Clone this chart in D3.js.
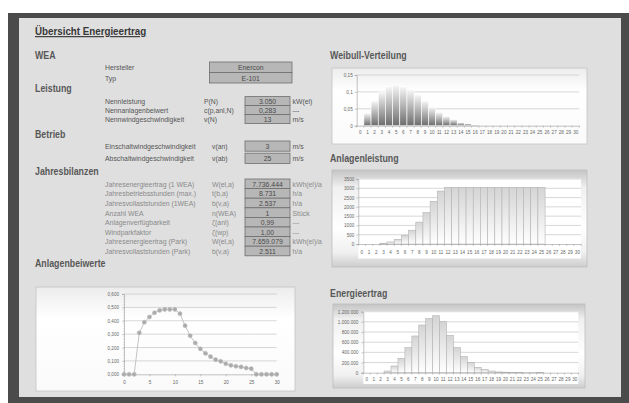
<!DOCTYPE html>
<html lang="de">
<head>
<meta charset="UTF-8">
<title>Übersicht Energieertrag</title>
<script src="https://d3js.org/d3.v7.min.js"></script>
<style>
  body { margin: 0; padding: 0; background: #fff; }
  svg { display: block; }
  text { font-family: "Liberation Sans", Arial, sans-serif; }
  .head { font-weight: bold; }
  .tick text { font-size: 4.6px; fill: #666; }
</style>
</head>
<body>
<div id="chart"></div>
<script>
// ---- data ----
const speeds = [0,1,2,3,4,5,6,7,8,9,10,11,12,13,14,15,16,17,18,19,20,21,22,23,24,25,26,27,28,29,30];

const weibull = [0,0.037,0.073,0.100,0.115,0.120,0.115,0.106,0.091,0.073,0.055,0.040,0.028,0.019,0.010,0.007,0.003,
                 0,0,0,0,0,0,0,0,0,0,0,0,0,0];

const power = [0,0,0,40,110,250,470,740,1180,1690,2300,2850,3050,3050,3050,3050,3050,3050,3050,3050,3050,3050,3050,3050,3050,3050,
               0,0,0,0,0];

const energy = [0,0,0,33000,132000,283000,492000,722000,938000,1070000,1121000,1003000,735000,492000,315000,197000,
                106000,67000,33000,15000,10000,7000,5000,3000,2000,1500,0,0,0,0,0];

const cp = [0,0,0,0.310,0.389,0.428,0.460,0.478,0.485,0.485,0.485,0.453,0.363,0.288,0.234,0.190,0.157,0.132,0.109,
            0.097,0.079,0.067,0.060,0.055,0.047,0.042,0,0,0,0,0];

const weaRows = [
  ["Hersteller", "Enercon"],
  ["Typ", "E-101"]
];
const leistungRows = [
  ["Nennleistung", "P(N)", "3.050", "kW(el)"],
  ["Nennanlagenbeiwert", "c(p,anl,N)", "0,283", "---"],
  ["Nennwindgeschwindigkeit", "v(N)", "13", "m/s"]
];
const betriebRows = [
  ["Einschaltwindgeschwindigkeit", "v(an)", "3", "m/s"],
  ["Abschaltwindgeschwindigkeit", "v(ab)", "25", "m/s"]
];
const bilanzRows = [
  ["Jahresenergieertrag (1 WEA)", "W(el,a)", "7.736.444", "kWh(el)/a"],
  ["Jahresbetriebsstunden (max.)", "t(b,a)", "8.731", "h/a"],
  ["Jahresvollaststunden (1WEA)", "b(v,a)", "2.537", "h/a"],
  ["Anzahl WEA", "n(WEA)", "1", "Stück"],
  ["Anlagenverfügbarkeit", "ζ(anl)", "0,99", "---"],
  ["Windparkfaktor", "ζ(wp)", "1,00", "---"],
  ["Jahresenergieertrag (Park)", "W(el,a)", "7.659.079", "kWh(el)/a"],
  ["Jahresvollaststunden (Park)", "b(v,a)", "2.511", "h/a"]
];

const de = d3.formatLocale({ decimal: ",", thousands: ".", grouping: [3], currency: ["", " €"] });

// ---- frame ----
const W = 629, H = 403;
const svg = d3.select("#chart").append("svg").attr("width", W).attr("height", H);
const defs = svg.append("defs");

function vGrad(id, stops) {
  const g = defs.append("linearGradient").attr("id", id)
    .attr("x1", 0).attr("y1", 0).attr("x2", 0).attr("y2", 1);
  stops.forEach(s => g.append("stop").attr("offset", s[0]).attr("stop-color", s[1]));
}
vGrad("gWeib", [[0, "#f6f6f6"], [1, "#6c6c6c"]]);
vGrad("gBar", [[0, "#d4d4d4"], [1, "#ffffff"]]);
vGrad("gPanel", [[0, "#c4c4c4"], [0.18, "#f0f0f0"], [0.6, "#ffffff"], [0.85, "#f0f0f0"], [1, "#cdcdcd"]]);
vGrad("gLight", [[0, "#ececec"], [0.3, "#ffffff"], [1, "#fafafa"]]);

svg.append("rect").attr("width", W).attr("height", H).attr("fill", "#fff");
svg.append("rect").attr("x", 8).attr("y", 13).attr("width", W - 8).attr("height", H - 13).attr("fill", "#4b4b4b");
svg.append("rect").attr("x", 19).attr("y", 18).attr("width", 602).attr("height", 379).attr("fill", "#dfdfdf");

// condensed text: the original uses a narrow face, so squeeze horizontally
function ntext(parent, x, y, txt, size, anchor, sx) {
  return parent.append("text")
    .attr("transform", `translate(${x},${y}) scale(${sx || 0.86},1)`)
    .attr("font-size", size).attr("text-anchor", anchor || "start").text(txt);
}

ntext(svg, 35, 35, "Übersicht Energieertrag", 11.5, "start", 0.85)
  .attr("class", "head").attr("fill", "#383838").style("text-decoration", "underline");

// ---- left table ----
function heading(txt, x, y) {
  ntext(svg, x, y, txt, 10.5, "start", 0.84).attr("class", "head").attr("fill", "#585858");
}
function box(x, y, w, h, val) {
  svg.append("rect").attr("x", x).attr("y", y).attr("width", w).attr("height", h)
    .attr("fill", "#b7b7b7").attr("stroke", "#6e6e6e").attr("stroke-width", 0.8);
  ntext(svg, x + w / 2, y + h / 2 + 2.9, val, 8, "middle").attr("fill", "#4a4a4a");
}
function rows(data, top, rowH, gap, symX, color) {
  data.forEach((r, i) => {
    const y = top + i * (rowH + gap);
    const base = y + rowH / 2 + 2.9;
    const g = svg.append("g").attr("fill", color);
    ntext(g, 105, base, r[0], 8);
    ntext(g, symX, base, r[1], 8);
    box(245, y, 45, rowH, r[2]);
    ntext(g, 292.5, base, r[3], 8);
  });
}

heading("WEA", 35, 59);
weaRows.forEach((r, i) => {
  const y = 62 + i * 10.5;
  ntext(svg, 105, y + 8.2, r[0], 8).attr("fill", "#555");
  box(209.5, y, 82.5, 10.5, r[1]);
});

heading("Leistung", 35, 92);
rows(leistungRows, 96.6, 9, 0, 204, "#555");

heading("Betrieb", 35, 138);
rows(betriebRows, 141, 10.2, 2, 212, "#555");

heading("Jahresbilanzen", 35, 175);
rows(bilanzRows, 179, 9.6, 0, 212, "#8a8a8a");

heading("Anlagenbeiwerte", 35, 267);

// right titles
heading("Weibull-Verteilung", 330, 59);
heading("Anlagenleistung", 330, 162);
heading("Energieertrag", 330, 297);

// ---- helpers ----
function styleAxis(g) {
  g.select(".domain").attr("stroke", "#9a9a9a").attr("stroke-width", 0.6);
  g.selectAll(".tick line").attr("stroke", "#9a9a9a").attr("stroke-width", 0.5);
}

function barChart(o) {
  const x = d3.scaleBand().domain(speeds).range([o.x0, o.x1]).padding(0);
  const y = d3.scaleLinear().domain([0, o.yMax]).range([o.yBot, o.yTop]);
  const g = svg.append("g");

  // grid
  g.append("g").selectAll("line").data(o.ticks.filter(t => t > 0)).join("line")
    .attr("x1", o.x0).attr("x2", o.x1)
    .attr("y1", d => y(d)).attr("y2", d => y(d))
    .attr("stroke", "#c6c6c6").attr("stroke-width", 0.7);

  // bars
  g.append("g").selectAll("rect").data(o.data.map((v, i) => ({ s: speeds[i], v })).filter(d => d.v > 0)).join("rect")
    .attr("x", d => x(d.s)).attr("width", x.bandwidth())
    .attr("y", d => y(d.v)).attr("height", d => y(0) - y(d.v))
    .attr("fill", o.fill).attr("stroke", o.stroke).attr("stroke-width", 0.6);

  // y axis
  const ya = g.append("g").attr("transform", `translate(${o.x0},0)`)
    .call(d3.axisLeft(y).tickValues(o.ticks).tickFormat(o.fmt).tickSize(2).tickPadding(o.pad));
  styleAxis(ya);

  // x axis, ticks on the category edges
  const xa = g.append("g").attr("transform", `translate(0,${o.yBot})`)
    .call(d3.axisBottom(x).tickSize(0).tickPadding(o.xPad));
  styleAxis(xa);
  xa.selectAll(".tick text").attr("font-size", 4.5);
  xa.append("g").selectAll("line").data(speeds.concat([31])).join("line")
    .attr("x1", (d, i) => o.x0 + i * x.bandwidth()).attr("x2", (d, i) => o.x0 + i * x.bandwidth())
    .attr("y1", 0).attr("y2", 2).attr("stroke", "#9a9a9a").attr("stroke-width", 0.5);
}

// ---- Weibull ----
svg.append("rect").attr("x", 332).attr("y", 68).attr("width", 255).attr("height", 76)
  .attr("fill", "url(#gLight)").attr("stroke", "#c4c4c4").attr("stroke-width", 0.8);
barChart({
  x0: 356.7, x1: 579.3, yTop: 75, yBot: 125.7, yMax: 0.15, data: weibull,
  ticks: [0, 0.05, 0.1, 0.15], fmt: d => String(d).replace(".", ","), pad: 2,
  fill: "url(#gWeib)", stroke: "#ffffff", xPad: 5
});

// ---- Anlagenleistung ----
svg.append("rect").attr("x", 332).attr("y", 170).attr("width", 255).attr("height", 97)
  .attr("fill", "url(#gPanel)").attr("stroke", "#bdbdbd").attr("stroke-width", 0.8);
svg.append("rect").attr("x", 358.3).attr("y", 178.5).attr("width", 222.7).attr("height", 80).attr("fill", "#fff");
barChart({
  x0: 358.3, x1: 581, yTop: 179, yBot: 244, yMax: 3500, data: power,
  ticks: [0, 500, 1000, 1500, 2000, 2500, 3000, 3500], fmt: d3.format("d"), pad: 2,
  fill: "url(#gBar)", stroke: "#b4b4b4", xPad: 6.5
});

// ---- Energieertrag ----
svg.append("rect").attr("x", 333).attr("y", 304).attr("width", 252).attr("height", 84)
  .attr("fill", "url(#gPanel)").attr("stroke", "#bdbdbd").attr("stroke-width", 0.8);
svg.append("rect").attr("x", 363.3).attr("y", 311).attr("width", 215).attr("height", 73).attr("fill", "#fff");
barChart({
  x0: 363.3, x1: 578.3, yTop: 311.7, yBot: 372.7, yMax: 1200000, data: energy,
  ticks: [0, 200000, 400000, 600000, 800000, 1000000, 1200000], fmt: de.format(",d"), pad: 3,
  fill: "url(#gBar)", stroke: "#b4b4b4", xPad: 5
});

// ---- Anlagenbeiwerte ----
svg.append("rect").attr("x", 36).attr("y", 287).attr("width", 259).attr("height", 104)
  .attr("fill", "url(#gLight)").attr("stroke", "#c4c4c4").attr("stroke-width", 0.8);
{
  const x = d3.scaleLinear().domain([0, 30]).range([124, 276.7]);
  const y = d3.scaleLinear().domain([0, 0.6]).range([374.3, 294]);
  const g = svg.append("g");
  const yt = [0, 0.1, 0.2, 0.3, 0.4, 0.5, 0.6];
  g.append("g").selectAll("line").data(yt.filter(t => t > 0)).join("line")
    .attr("x1", x(0)).attr("x2", x(30)).attr("y1", d => y(d)).attr("y2", d => y(d))
    .attr("stroke", "#c6c6c6").attr("stroke-width", 0.7);

  const ya = g.append("g").attr("transform", `translate(${x(0)},0)`)
    .call(d3.axisLeft(y).tickValues(yt).tickFormat(de.format(".3f")).tickSize(2).tickPadding(3));
  styleAxis(ya);
  // minor ticks
  ya.append("g").selectAll("line").data(d3.range(0, 0.6, 0.02)).join("line")
    .attr("x1", -1).attr("x2", 0).attr("y1", d => y(d)).attr("y2", d => y(d))
    .attr("stroke", "#aaa").attr("stroke-width", 0.4);

  const xa = g.append("g").attr("transform", `translate(0,${y(0)})`)
    .call(d3.axisBottom(x).tickValues([0, 5, 10, 15, 20, 25, 30]).tickSize(2).tickPadding(4));
  styleAxis(xa);

  const pts = cp.map((v, i) => [speeds[i], v]);
  g.append("path").datum(pts)
    .attr("d", d3.line().x(d => x(d[0])).y(d => y(d[1])))
    .attr("fill", "none").attr("stroke", "#b5b5b5").attr("stroke-width", 0.8);
  g.append("g").selectAll("circle").data(pts).join("circle")
    .attr("cx", d => x(d[0])).attr("cy", d => y(d[1])).attr("r", 2.1)
    .attr("fill", "#ababab").attr("stroke", "#bcbcbc").attr("stroke-width", 0.5);
}
</script>
</body>
</html>
